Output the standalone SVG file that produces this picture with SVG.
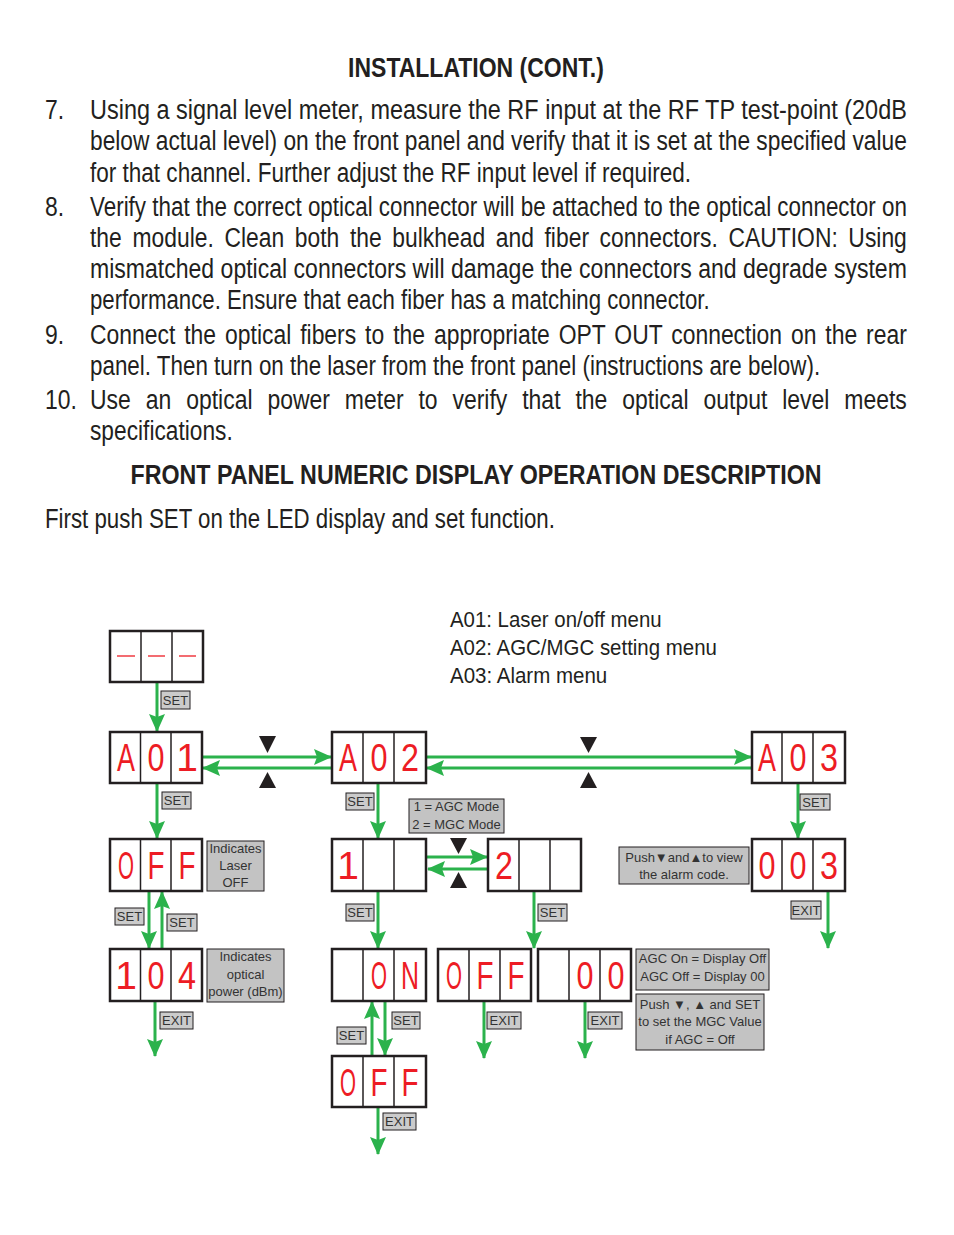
<svg xmlns="http://www.w3.org/2000/svg" width="954" height="1235" viewBox="0 0 954 1235">
<style>
text{font-family:"Liberation Sans",Arial,sans-serif;fill:#231f20}
.b{font-size:27px}
.h{font-size:27px;font-weight:bold}
.m{font-size:22px}
.l{font-size:13px;fill:#333;text-anchor:middle}
.d{font-size:39px;fill:#ed1c24;text-anchor:middle}
.box{fill:#fff;stroke:#231f20;stroke-width:2.5}
.div{stroke:#231f20;stroke-width:1.5}
.tag{fill:#cbcbcb;stroke:#231f20;stroke-width:1}
.note{fill:#c3c3c3;stroke:#231f20;stroke-width:1}
.c{fill:none;stroke:#2bb24c;stroke-width:3;marker-end:url(#ah)}
.tri{fill:#231f20}
</style>
<defs>
<marker id="ah" markerUnits="userSpaceOnUse" markerWidth="18" markerHeight="16" viewBox="0 0 18 16" refX="17" refY="8" orient="auto">
<path d="M0,0 L18,8 L0,16 L3,8 z" fill="#2bb24c"/>
</marker>
</defs>

<g id="text-block" transform="scale(0.85,1)">
<text class="h" x="560" y="77" text-anchor="middle" textLength="301" lengthAdjust="spacingAndGlyphs">INSTALLATION (CONT.)</text>
<text class="b" x="52.9" y="119">7.</text>
<text class="b" x="105.9" y="119" textLength="961" lengthAdjust="spacingAndGlyphs">Using a signal level meter, measure the RF input at the RF TP test-point (20dB</text>
<text class="b" x="105.9" y="150" textLength="961" lengthAdjust="spacingAndGlyphs">below actual level) on the front panel and verify that it is set at the specified value</text>
<text class="b" x="105.9" y="182" textLength="707" lengthAdjust="spacingAndGlyphs">for that channel. Further adjust the RF input level if required.</text>
<text class="b" x="52.9" y="216">8.</text>
<text class="b" x="105.9" y="216" textLength="961" lengthAdjust="spacingAndGlyphs">Verify that the correct optical connector will be attached to the optical connector on</text>
<text class="b" x="105.9" y="247" textLength="961" lengthAdjust="spacingAndGlyphs" word-spacing="5">the module. Clean both the bulkhead and fiber connectors. CAUTION: Using</text>
<text class="b" x="105.9" y="278" textLength="961" lengthAdjust="spacingAndGlyphs">mismatched optical connectors will damage the connectors and degrade system</text>
<text class="b" x="105.9" y="309" textLength="729" lengthAdjust="spacingAndGlyphs">performance. Ensure that each fiber has a matching connector.</text>
<text class="b" x="52.9" y="344">9.</text>
<text class="b" x="105.9" y="344" textLength="961" lengthAdjust="spacingAndGlyphs" word-spacing="3">Connect the optical fibers to the appropriate OPT OUT connection on the rear</text>
<text class="b" x="105.9" y="375" textLength="859" lengthAdjust="spacingAndGlyphs">panel. Then turn on the laser from the front panel (instructions are below).</text>
<text class="b" x="52.9" y="409">10.</text>
<text class="b" x="105.9" y="409" textLength="961" lengthAdjust="spacingAndGlyphs" word-spacing="10">Use an optical power meter to verify that the optical output level meets</text>
<text class="b" x="105.9" y="440" textLength="168" lengthAdjust="spacingAndGlyphs">specifications.</text>
<text class="h" x="560" y="484" text-anchor="middle" textLength="813" lengthAdjust="spacingAndGlyphs">FRONT PANEL NUMERIC DISPLAY OPERATION DESCRIPTION</text>
<text class="b" x="52.9" y="528" textLength="600" lengthAdjust="spacingAndGlyphs">First push SET on the LED display and set function.</text>
<text class="m" x="529.4" y="627" textLength="249" lengthAdjust="spacingAndGlyphs">A01: Laser on/off menu</text>
<text class="m" x="529.4" y="655" textLength="314" lengthAdjust="spacingAndGlyphs">A02: AGC/MGC setting menu</text>
<text class="m" x="529.4" y="683" textLength="185" lengthAdjust="spacingAndGlyphs">A03: Alarm menu</text>
</g>

<g id="connectors">
<path class="c" d="M157,682 V731"/>
<path class="c" d="M157,783 V838"/>
<path class="c" d="M202,757 H331"/>
<path class="c" d="M332,768 H203"/>
<path class="c" d="M426,757 H751"/>
<path class="c" d="M752,768 H427"/>
<path class="c" d="M378,783 V838"/>
<path class="c" d="M798,783 V838"/>
<path class="c" d="M426,857 H487"/>
<path class="c" d="M488,869 H428"/>
<path class="c" d="M149,891 V948"/>
<path class="c" d="M162,949 V892"/>
<path class="c" d="M155,1001 V1056"/>
<path class="c" d="M378,891 V948"/>
<path class="c" d="M534,891 V948"/>
<path class="c" d="M385,1001 V1055"/>
<path class="c" d="M372,1056 V1002"/>
<path class="c" d="M378,1107 V1154"/>
<path class="c" d="M484,1001 V1058"/>
<path class="c" d="M585,1001 V1058"/>
<path class="c" d="M828,891 V948"/>
<polygon class="tri" points="259,736 276,736 267.5,753"/>
<polygon class="tri" points="259,788 276,788 267.5,772"/>
<polygon class="tri" points="580,737 597,737 588.5,753"/>
<polygon class="tri" points="580,788 597,788 588.5,772"/>
<polygon class="tri" points="450,838 467,838 458.5,854"/>
<polygon class="tri" points="450,888 467,888 458.5,872"/>
<rect class="tag" x="161" y="691" width="29" height="18"/><text class="l" x="175.5" y="705">SET</text>
<rect class="tag" x="162" y="792" width="29" height="17"/><text class="l" x="176.5" y="805">SET</text>
<rect class="tag" x="346" y="793" width="28" height="17"/><text class="l" x="360" y="806">SET</text>
<rect class="tag" x="800" y="794" width="30" height="16"/><text class="l" x="815" y="807">SET</text>
<rect class="tag" x="115" y="908" width="29" height="17"/><text class="l" x="129.5" y="921">SET</text>
<rect class="tag" x="167" y="914" width="30" height="17"/><text class="l" x="182" y="927">SET</text>
<rect class="tag" x="160" y="1012" width="33" height="17"/><text class="l" x="176.5" y="1025">EXIT</text>
<rect class="tag" x="346" y="904" width="28" height="17"/><text class="l" x="360" y="917">SET</text>
<rect class="tag" x="538" y="904" width="29" height="17"/><text class="l" x="552.5" y="917">SET</text>
<rect class="tag" x="392" y="1012" width="28" height="17"/><text class="l" x="406" y="1025">SET</text>
<rect class="tag" x="337" y="1027" width="29" height="17"/><text class="l" x="351.5" y="1040">SET</text>
<rect class="tag" x="383" y="1113" width="33" height="17"/><text class="l" x="399.5" y="1126">EXIT</text>
<rect class="tag" x="487" y="1012" width="34" height="17"/><text class="l" x="504" y="1025">EXIT</text>
<rect class="tag" x="588" y="1012" width="34" height="17"/><text class="l" x="605" y="1025">EXIT</text>
<rect class="tag" x="791" y="901" width="30" height="18"/><text class="l" x="806" y="915">EXIT</text>
</g>

<g id="node-start">
<rect class="box" x="110" y="631" width="93" height="51"/>
<line class="div" x1="141" y1="631" x2="141" y2="682"/><line class="div" x1="172" y1="631" x2="172" y2="682"/>
<line x1="117" y1="656" x2="135" y2="656" stroke="#ed1c24" stroke-width="1.3"/>
<line x1="148" y1="656" x2="165" y2="656" stroke="#ed1c24" stroke-width="1.3"/>
<line x1="179" y1="656" x2="196" y2="656" stroke="#ed1c24" stroke-width="1.3"/>
</g>

<g id="node-A01">
<rect class="box" x="110" y="732" width="92" height="51"/>
<line class="div" x1="140.5" y1="732" x2="140.5" y2="783"/><line class="div" x1="171" y1="732" x2="171" y2="783"/>
<text class="d" x="126" y="771" textLength="18" lengthAdjust="spacingAndGlyphs">A</text>
<text class="d" x="156" y="771" textLength="17" lengthAdjust="spacingAndGlyphs">0</text>
<text class="d" x="187" y="771">1</text>
</g>

<g id="node-A02">
<rect class="box" x="332" y="732" width="94" height="51"/>
<line class="div" x1="363" y1="732" x2="363" y2="783"/><line class="div" x1="394" y1="732" x2="394" y2="783"/>
<text class="d" x="348" y="771" textLength="18" lengthAdjust="spacingAndGlyphs">A</text>
<text class="d" x="379" y="771" textLength="17" lengthAdjust="spacingAndGlyphs">0</text>
<text class="d" x="410" y="771" textLength="18" lengthAdjust="spacingAndGlyphs">2</text>
</g>

<g id="node-A03">
<rect class="box" x="752" y="732" width="93" height="51"/>
<line class="div" x1="782" y1="732" x2="782" y2="783"/><line class="div" x1="813" y1="732" x2="813" y2="783"/>
<text class="d" x="767" y="771" textLength="18" lengthAdjust="spacingAndGlyphs">A</text>
<text class="d" x="798" y="771" textLength="17" lengthAdjust="spacingAndGlyphs">0</text>
<text class="d" x="829" y="771" textLength="18" lengthAdjust="spacingAndGlyphs">3</text>
</g>

<g id="node-note-mode">
<rect class="note" x="409" y="799" width="95" height="34"/>
<text class="l" x="456.5" y="811">1 = AGC Mode</text>
<text class="l" x="456.5" y="829">2 = MGC Mode</text>
</g>

<g id="node-OFF1">
<rect class="box" x="110" y="839" width="92" height="52"/>
<line class="div" x1="140.5" y1="839" x2="140.5" y2="891"/><line class="div" x1="171" y1="839" x2="171" y2="891"/>
<text class="d" x="126" y="879" textLength="16" lengthAdjust="spacingAndGlyphs">O</text>
<text class="d" x="156" y="879" textLength="17" lengthAdjust="spacingAndGlyphs">F</text>
<text class="d" x="187" y="879" textLength="17" lengthAdjust="spacingAndGlyphs">F</text>
</g>

<g id="node-note-laser">
<rect class="note" x="207" y="841" width="57" height="50"/>
<text class="l" x="235.5" y="853">Indicates</text>
<text class="l" x="235.5" y="870">Laser</text>
<text class="l" x="235.5" y="887">OFF</text>
</g>

<g id="node-104">
<rect class="box" x="110" y="949" width="92" height="52"/>
<line class="div" x1="140.5" y1="949" x2="140.5" y2="1001"/><line class="div" x1="171" y1="949" x2="171" y2="1001"/>
<text class="d" x="126" y="989">1</text>
<text class="d" x="156" y="989" textLength="17" lengthAdjust="spacingAndGlyphs">0</text>
<text class="d" x="187" y="989" textLength="18" lengthAdjust="spacingAndGlyphs">4</text>
</g>

<g id="node-note-power">
<rect class="note" x="207" y="949" width="77" height="53"/>
<text class="l" x="245.5" y="961">Indicates</text>
<text class="l" x="245.5" y="979">optical</text>
<text class="l" x="245.5" y="996">power (dBm)</text>
</g>

<g id="node-1">
<rect class="box" x="332" y="839" width="94" height="52"/>
<line class="div" x1="363" y1="839" x2="363" y2="891"/><line class="div" x1="394" y1="839" x2="394" y2="891"/>
<text class="d" x="348" y="879">1</text>
</g>

<g id="node-2">
<rect class="box" x="488" y="839" width="93" height="52"/>
<line class="div" x1="519" y1="839" x2="519" y2="891"/><line class="div" x1="550" y1="839" x2="550" y2="891"/>
<text class="d" x="504" y="879" textLength="18" lengthAdjust="spacingAndGlyphs">2</text>
</g>

<g id="node-note-alarm">
<rect class="note" x="619" y="847" width="130" height="37"/>
<text class="l" x="684" y="862">Push▼and▲to view</text>
<text class="l" x="684" y="879">the alarm code.</text>
</g>

<g id="node-003">
<rect class="box" x="752" y="839" width="93" height="52"/>
<line class="div" x1="782" y1="839" x2="782" y2="891"/><line class="div" x1="813" y1="839" x2="813" y2="891"/>
<text class="d" x="767" y="879" textLength="17" lengthAdjust="spacingAndGlyphs">0</text>
<text class="d" x="798" y="879" textLength="17" lengthAdjust="spacingAndGlyphs">0</text>
<text class="d" x="829" y="879" textLength="18" lengthAdjust="spacingAndGlyphs">3</text>
</g>

<g id="node-ON">
<rect class="box" x="332" y="949" width="94" height="52"/>
<line class="div" x1="363" y1="949" x2="363" y2="1001"/><line class="div" x1="394" y1="949" x2="394" y2="1001"/>
<text class="d" x="379" y="989" textLength="16" lengthAdjust="spacingAndGlyphs">O</text>
<text class="d" x="410" y="989" textLength="18" lengthAdjust="spacingAndGlyphs">N</text>
</g>

<g id="node-OFF2">
<rect class="box" x="438" y="949" width="93" height="52"/>
<line class="div" x1="469" y1="949" x2="469" y2="1001"/><line class="div" x1="500" y1="949" x2="500" y2="1001"/>
<text class="d" x="454" y="989" textLength="16" lengthAdjust="spacingAndGlyphs">O</text>
<text class="d" x="485" y="989" textLength="17" lengthAdjust="spacingAndGlyphs">F</text>
<text class="d" x="516" y="989" textLength="17" lengthAdjust="spacingAndGlyphs">F</text>
</g>

<g id="node-00">
<rect class="box" x="538" y="949" width="93" height="52"/>
<line class="div" x1="569" y1="949" x2="569" y2="1001"/><line class="div" x1="600" y1="949" x2="600" y2="1001"/>
<text class="d" x="585" y="989" textLength="17" lengthAdjust="spacingAndGlyphs">0</text>
<text class="d" x="616" y="989" textLength="17" lengthAdjust="spacingAndGlyphs">0</text>
</g>

<g id="node-note-agc">
<rect class="note" x="636" y="949" width="133" height="41"/>
<text class="l" x="702.5" y="963">AGC On = Display Off</text>
<text class="l" x="702.5" y="981">AGC Off = Display 00</text>
</g>

<g id="node-note-mgc">
<rect class="note" x="636" y="994" width="128" height="56"/>
<text class="l" x="700" y="1009">Push ▼, ▲ and SET</text>
<text class="l" x="700" y="1026">to set the MGC Value</text>
<text class="l" x="700" y="1044">if AGC = Off</text>
</g>

<g id="node-OFF3">
<rect class="box" x="332" y="1056" width="94" height="51"/>
<line class="div" x1="363" y1="1056" x2="363" y2="1107"/><line class="div" x1="394" y1="1056" x2="394" y2="1107"/>
<text class="d" x="348" y="1096" textLength="16" lengthAdjust="spacingAndGlyphs">O</text>
<text class="d" x="379" y="1096" textLength="17" lengthAdjust="spacingAndGlyphs">F</text>
<text class="d" x="410" y="1096" textLength="17" lengthAdjust="spacingAndGlyphs">F</text>
</g>
</svg>
